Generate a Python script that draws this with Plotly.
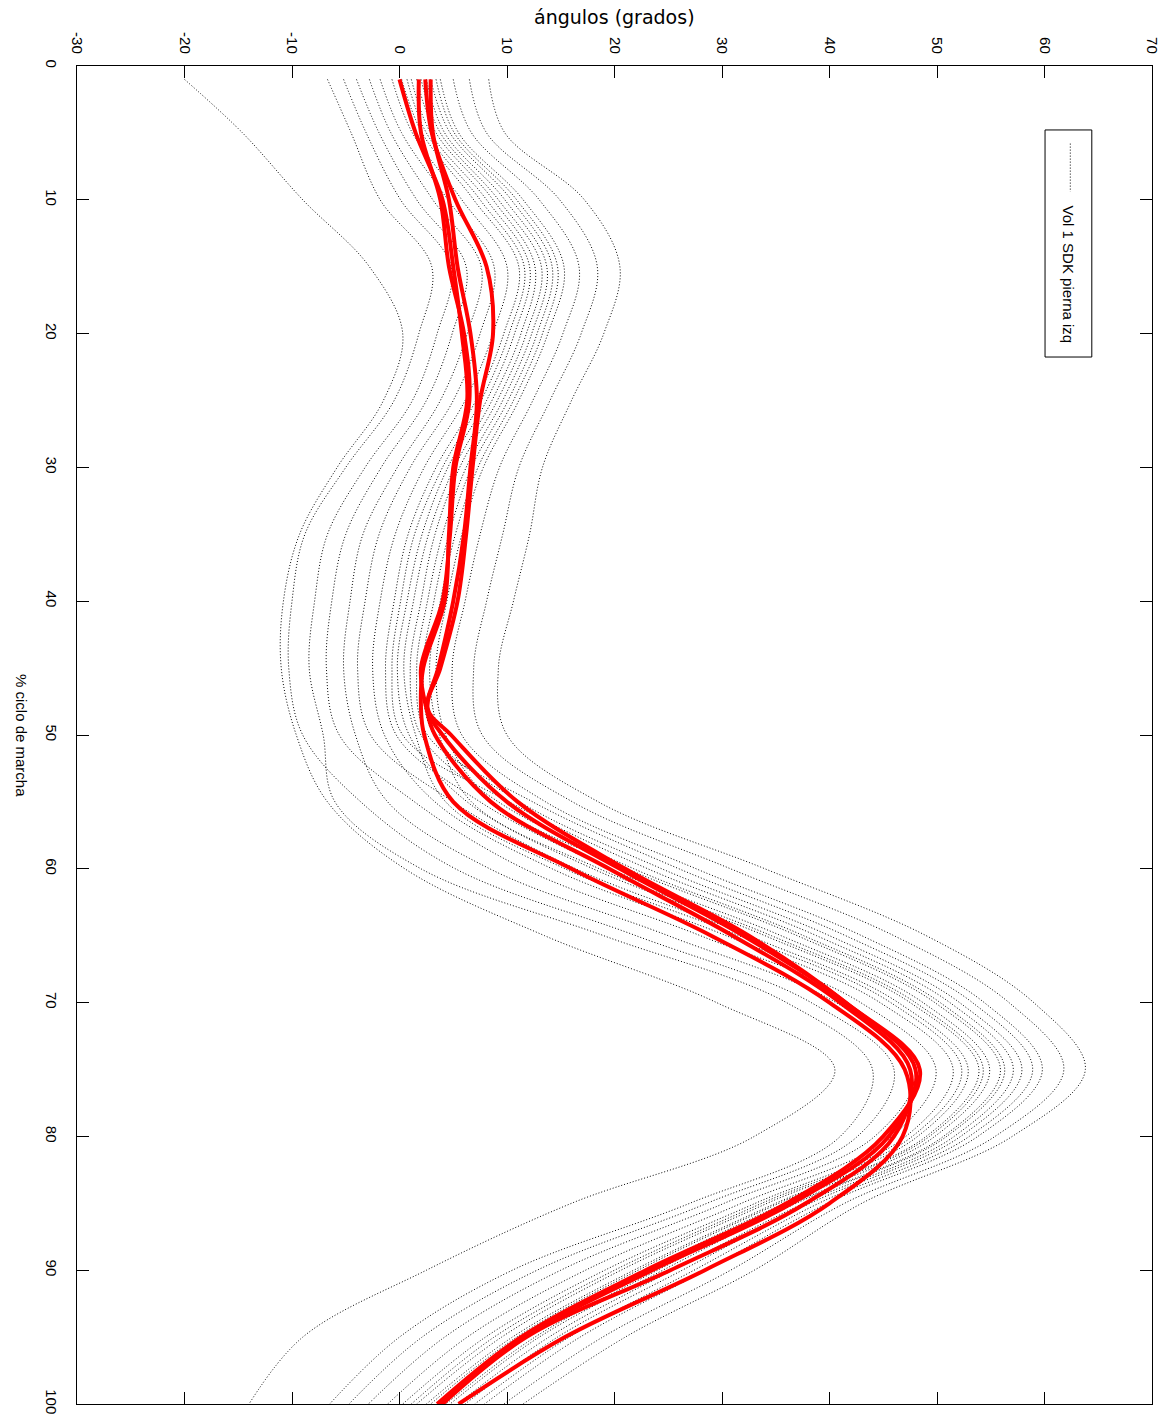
import plotly.graph_objects as go

# ---------------- data ----------------
pct_black = [1, 5, 10, 15, 20, 25, 30, 35, 40, 45, 50, 55, 60, 65, 70, 75, 80, 85, 90, 95, 100]

normal_01 = [-6.7, -4.5, -1.8, 3.0, 1.8, -0.5, -5.0, -8.8, -10.0, -10.3, -9.0, -3.6, 5.2, 22.0, 38.3, 46.0, 42.6, 28.6, 12.8, 2.1, -4.7]
normal_02 = [-5.2, -3.1, 0.1, 4.8, 3.5, 1.2, -3.2, -6.7, -7.9, -8.4, -7.1, -6.0, 2.0, 19.0, 36.0, 44.0, 41.0, 27.0, 10.5, 0.0, -6.5]
normal_03 = [-4.0, -1.9, 1.6, 6.2, 4.9, 2.5, -1.7, -5.0, -6.3, -6.8, -5.6, 1.4, 11.6, 28.0, 42.9, 49.9, 45.8, 31.8, 17.3, 6.3, -1.1]
normal_04 = [-2.8, -0.8, 3.1, 7.6, 6.3, 3.8, -0.2, -3.4, -4.6, -5.2, -4.1, -1.1, 8.4, 25.0, 40.6, 48.0, 44.2, 30.2, 15.0, 4.2, -2.9]
normal_05 = [-1.8, 0.2, 4.5, 8.8, 7.5, 5.0, 1.0, -1.9, -3.2, -3.9, -2.7, 5.0, 16.4, 32.5, 46.4, 52.9, 48.2, 34.2, 20.6, 9.5, 1.6]
normal_06 = [-0.7, 1.2, 5.8, 10.0, 8.7, 6.1, 2.3, -0.4, -1.8, -2.5, -1.4, 3.3, 14.2, 30.4, 44.7, 51.5, 47.1, 33.1, 19.1, 8.0, 0.3]
normal_07 = [0.2, 2.1, 6.9, 11.1, 9.7, 7.1, 3.4, 0.8, -0.5, -1.3, -0.3, 7.5, 19.6, 35.5, 48.7, 54.9, 49.8, 35.8, 22.9, 11.6, 3.4]
normal_08 = [1.1, 2.9, 8.1, 12.1, 10.7, 8.1, 4.5, 2.1, 0.7, -0.2, 0.9, 6.3, 18.0, 34.0, 47.5, 53.9, 49.0, 35.0, 21.8, 10.5, 2.5]
normal_09 = [2.0, 3.8, 9.2, 13.2, 11.8, 9.1, 5.6, 3.3, 2.0, 1.0, 2.0, 9.2, 21.8, 37.6, 50.3, 56.3, 50.9, 36.9, 24.5, 13.0, 4.7]
normal_10 = [2.9, 4.7, 10.4, 14.2, 12.8, 10.1, 6.7, 4.6, 3.2, 2.2, 3.2, 11.2, 24.4, 40.0, 52.1, 57.9, 52.2, 38.2, 26.3, 14.7, 6.1]
normal_11 = [3.8, 5.5, 11.5, 15.3, 13.8, 11.1, 7.8, 5.8, 4.4, 3.4, 4.3, 8.7, 21.2, 37.0, 49.8, 55.9, 50.6, 36.6, 24.0, 12.6, 4.3]
normal_12 = [5.0, 6.7, 13.0, 16.7, 15.2, 12.4, 9.3, 7.5, 6.1, 4.9, 5.8, 13.6, 27.6, 43.0, 54.4, 59.8, 53.8, 39.8, 28.5, 16.8, 7.9]
normal_13 = [6.5, 8.1, 14.9, 18.4, 16.9, 14.0, 11.1, 9.6, 8.1, 6.9, 7.7, 16.1, 30.8, 46.0, 56.7, 61.8, 55.4, 41.4, 30.8, 18.9, 9.7]
normal_14 = [8.3, 9.8, 17.2, 20.5, 19.0, 16.0, 13.3, 12.1, 10.6, 9.2, 10.0, 18.5, 34.0, 49.0, 59.0, 63.8, 57.0, 43.0, 33.0, 21.0, 11.5]
normal_15 = [-20.0, -14.6, -9.0, -2.8, 0.3, -1.5, -5.8, -9.3, -10.8, -11.0, -9.6, -6.7, 0.5, 13.5, 29.5, 40.5, 33.0, 16.0, 2.5, -9.0, -14.0]
normal_16 = [0.7, 2.5, 7.5, 11.6, 10.2, 7.6, 4.0, 1.4, 0.1, -0.7, 0.3, 10.2, 23.1, 38.8, 51.2, 57.1, 51.6, 37.6, 25.4, 13.9, 5.4]
normal_17 = [1.6, 3.4, 8.7, 12.6, 11.3, 8.6, 5.1, 2.7, 1.3, 0.4, 1.5, 4.3, 15.4, 31.6, 45.7, 52.3, 47.7, 33.7, 20.0, 8.8, 1.1]
normal_18 = [2.5, 4.2, 9.8, 13.7, 12.3, 9.6, 6.2, 4.0, 2.6, 1.6, 2.6, 12.4, 26.0, 41.5, 53.3, 58.9, 53.0, 39.0, 27.4, 15.8, 7.0]
normal_19 = [3.4, 5.1, 10.9, 14.7, 13.3, 10.6, 7.3, 5.2, 3.8, 2.8, 3.7, 6.7, 18.6, 34.6, 48.0, 54.3, 49.3, 35.3, 22.2, 10.9, 2.9]

pct_red = [1, 5, 10, 15, 20, 25, 30, 35, 40, 45, 48, 50, 55, 60, 65, 70, 75, 80, 85, 90, 95, 100]
red_1 = [0.0, 1.5, 4.0, 5.0, 5.8, 6.3, 5.0, 4.6, 4.2, 2.2, 2.0, 2.3, 5.0, 16.0, 29.0, 40.0, 47.0, 46.8, 40.0, 28.4, 15.4, 5.5]
red_2 = [1.8, 2.0, 3.8, 4.6, 6.0, 6.5, 5.2, 4.7, 4.0, 2.0, 2.5, 3.3, 8.5, 19.5, 31.0, 41.0, 47.5, 46.0, 37.8, 25.2, 11.8, 4.0]
red_3 = [2.4, 3.0, 5.2, 8.1, 8.7, 7.5, 6.8, 6.2, 5.4, 3.8, 2.6, 4.8, 11.0, 21.0, 32.5, 41.5, 48.4, 45.0, 36.0, 22.9, 11.3, 3.5]
red_4 = [2.9, 3.1, 4.6, 5.4, 6.6, 7.2, 6.6, 6.0, 5.0, 3.6, 2.6, 4.0, 10.0, 20.5, 32.0, 41.5, 48.0, 45.5, 36.5, 23.5, 11.6, 3.8]

angle_ticks = [-30, -20, -10, 0, 10, 20, 30, 40, 50, 60, 70]
angle_tick_text = ["-30", "-20", "-10", "0", "10", "20", "30", "40", "50", "60", "70"]
pct_ticks = [0, 10, 20, 30, 40, 50, 60, 70, 80, 90, 100]

legend_label = "Vol 1 SDK pierna izq"
x_title = "ángulos (grados)"
y_title = "% ciclo de marcha"

# ---------------- figure ----------------
FONT = "Liberation Sans, Arial, sans-serif"
fig = go.Figure()

black_curves = [normal_01, normal_02, normal_03, normal_04, normal_05, normal_06, normal_07,
                normal_08, normal_09, normal_10, normal_11, normal_12, normal_13, normal_14,
                normal_15, normal_16, normal_17, normal_18, normal_19]
for c in black_curves:
    fig.add_trace(go.Scatter(x=c, y=pct_black, mode="lines", showlegend=False,
                             line=dict(color="black", width=1, dash="1px,2px", shape="spline")))

for c in [red_1, red_2, red_3, red_4]:
    fig.add_trace(go.Scatter(x=c, y=pct_red, mode="lines", showlegend=False,
                             line=dict(color="#ff0000", width=4, shape="spline")))

axis_common = dict(showline=True, linecolor="black", linewidth=1, mirror="ticks",
                   ticks="inside", ticklen=12, tickcolor="black", tickwidth=1,
                   showgrid=False, zeroline=False, tickangle=90,
                   tickfont=dict(family=FONT, size=15, color="black"), automargin=False)

fig.update_xaxes(range=[-30, 70], side="top", tickvals=angle_ticks, ticktext=angle_tick_text,
                 ticklabelstandoff=6, **axis_common)
fig.update_yaxes(range=[100, 0], tickvals=pct_ticks, ticklabelstandoff=12, **axis_common)

# legend box (drawn manually, rotated like the reference)
fig.add_shape(type="rect", xref="x", yref="y", x0=60.05, x1=64.4, y0=4.78, y1=21.75,
              line=dict(color="black", width=1), fillcolor="white", layer="above")
fig.add_shape(type="line", xref="x", yref="y", x0=62.4, x1=62.4, y0=5.8, y1=9.4,
              line=dict(color="black", width=1, dash="1px,2px"), layer="above")
fig.add_annotation(text=legend_label, xref="x", yref="y", x=62.2, y=15.6, textangle=90,
                   showarrow=False, font=dict(family=FONT, size=15, color="black"))

fig.add_annotation(text=x_title, xref="paper", yref="paper", x=0.5, y=1, yanchor="bottom",
                   yshift=36, showarrow=False,
                   font=dict(family="DejaVu Sans, sans-serif", size=19, color="black"))
fig.add_annotation(text=y_title, xref="paper", yref="paper", x=0, y=0.5, xanchor="center",
                   xshift=-55, textangle=90, showarrow=False,
                   font=dict(family=FONT, size=15, color="black"))

fig.update_layout(width=1172, height=1421, margin=dict(l=77, r=20, t=66, b=17),
                  plot_bgcolor="white", paper_bgcolor="white", showlegend=False)

fig.write_html("out.html")
